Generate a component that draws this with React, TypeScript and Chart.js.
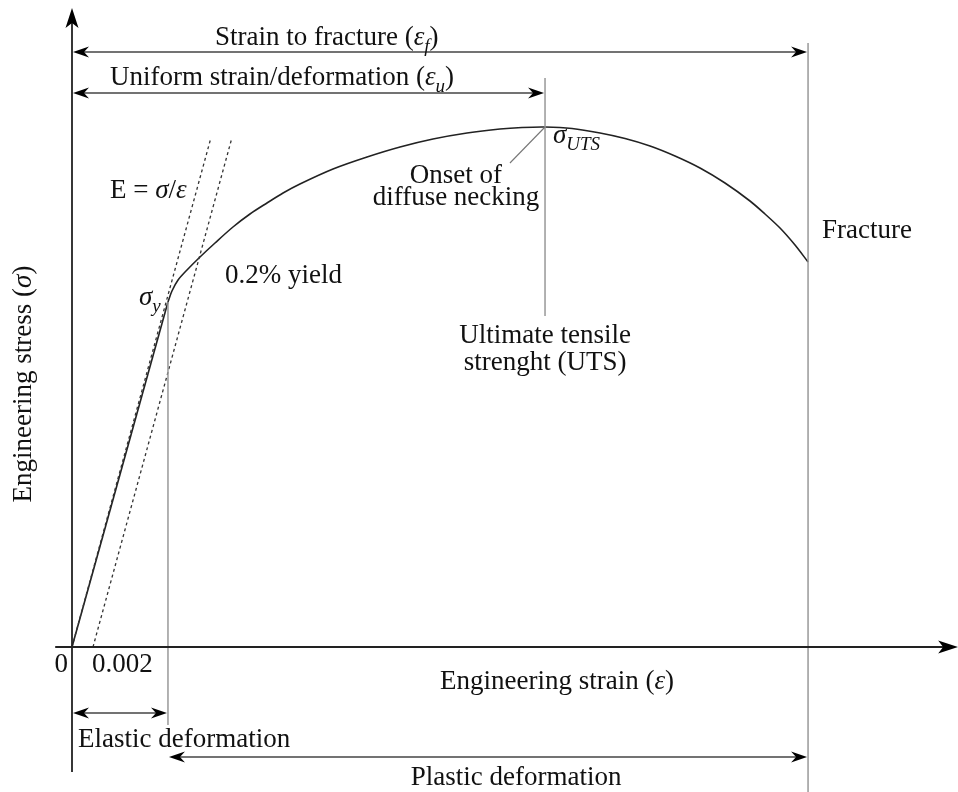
import { useEffect, useRef } from 'react';
import { Chart, registerables } from 'chart.js';

Chart.register(...registerables);

// ---- Data (strain in mm/mm, stress in arbitrary MPa) ----
const elasticStrain = [0, 0.00914];
const elasticStress = [0, 345];
const plasticStrain = [0.00914, 0.00952, 0.0101, 0.01095, 0.01219, 0.01362, 0.01533, 0.01695, 0.01857, 0.0201, 0.02171, 0.02486, 0.0281, 0.03124, 0.03438, 0.03762, 0.04076, 0.04286, 0.04505, 0.04762, 0.05029, 0.05267, 0.05505, 0.05743, 0.05981, 0.06219, 0.06457, 0.066, 0.06743, 0.06886, 0.0701];
const plasticStress = [345, 356, 367, 377, 390, 404, 420, 433, 444, 454, 463, 478, 490, 500, 508, 514, 518, 519.5, 520, 518.5, 514, 508.5, 501, 491, 479, 464, 446, 433, 419, 402, 385];
const modulusLineStrain = [0, 0.0132];
const modulusLineStress = [0, 508];
const offsetLineStrain = [0.002, 0.0152];
const offsetLineStress = [0, 508];
const guideStrain = [0.00914, 0.04505, 0.0701];
const guideTop = [345, 569, 604];
const guideBottom = [-78, 331, -145];
const dimFrom = [0, 0, 0, 0.00914];
const dimTo = [0.0701, 0.04505, 0.00914, 0.0701];
const dimLevel = [595, 554, -66, -110];
const tickValues = [0, 0.002];
const tickLabels = ['0', '0.002'];

const FONT = '"Liberation Serif", "Times New Roman", serif';
const SIZE = 27;
const SUB = 19;

type Part = { t: string; it?: boolean; sub?: boolean };
type Label = { parts: Part[]; x: number; y: number; align: 'left' | 'center' | 'right' };

const labels: Label[] = [
  { parts: [{ t: 'Strain to fracture (' }, { t: 'ε', it: true }, { t: 'f', it: true, sub: true }, { t: ')' }], x: 0.01362, y: 602, align: 'left' },
  { parts: [{ t: 'Uniform strain/deformation (' }, { t: 'ε', it: true }, { t: 'u', it: true, sub: true }, { t: ')' }], x: 0.00362, y: 562, align: 'left' },
  { parts: [{ t: 'E = ' }, { t: 'σ', it: true }, { t: '/' }, { t: 'ε', it: true }], x: 0.00362, y: 449, align: 'left' },
  { parts: [{ t: '0.2% yield' }], x: 0.01457, y: 364, align: 'left' },
  { parts: [{ t: 'σ', it: true }, { t: 'y', it: true, sub: true }], x: 0.00638, y: 342, align: 'left' },
  { parts: [{ t: 'σ', it: true }, { t: 'UTS', it: true, sub: true }], x: 0.04581, y: 504, align: 'left' },
  { parts: [{ t: 'Onset of' }], x: 0.03657, y: 464, align: 'center' },
  { parts: [{ t: 'diffuse necking' }], x: 0.03657, y: 442, align: 'center' },
  { parts: [{ t: 'Fracture' }], x: 0.07143, y: 409, align: 'left' },
  { parts: [{ t: 'Ultimate tensile' }], x: 0.04505, y: 304, align: 'center' },
  { parts: [{ t: 'strenght (UTS)' }], x: 0.04505, y: 277, align: 'center' },
  { parts: [{ t: 'Engineering strain (' }, { t: 'ε', it: true }, { t: ')' }], x: 0.04619, y: -42, align: 'center' },
  { parts: [{ t: 'Elastic deformation' }], x: 0.00057, y: -100, align: 'left' },
  { parts: [{ t: 'Plastic deformation' }], x: 0.04229, y: -138, align: 'center' },
];

const partFont = (p: Part) => `${p.it ? 'italic ' : ''}${p.sub ? SUB : SIZE}px ${FONT}`;

function drawRich(ctx: CanvasRenderingContext2D, parts: Part[], x: number, y: number, align: string) {
  let w = 0;
  for (const p of parts) {
    ctx.font = partFont(p);
    w += ctx.measureText(p.t).width;
  }
  let cx = align === 'center' ? x - w / 2 : align === 'right' ? x - w : x;
  ctx.textAlign = 'left';
  ctx.textBaseline = 'alphabetic';
  for (const p of parts) {
    ctx.font = partFont(p);
    ctx.fillText(p.t, cx, y + (p.sub ? 7 : 0));
    cx += ctx.measureText(p.t).width;
  }
}

function head(ctx: CanvasRenderingContext2D, tx: number, ty: number, dx: number, dy: number, len = 16, hw = 5.5) {
  const px = -dy, py = dx;
  ctx.beginPath();
  ctx.moveTo(tx, ty);
  ctx.lineTo(tx - dx * len + px * hw, ty - dy * len + py * hw);
  ctx.lineTo(tx - dx * (len - 5), ty - dy * (len - 5));
  ctx.lineTo(tx - dx * len - px * hw, ty - dy * len - py * hw);
  ctx.closePath();
  ctx.fill();
}

const annotPlugin = {
  id: 'annot',
  afterDatasetsDraw(chart: any) {
    const ctx: CanvasRenderingContext2D = chart.ctx;
    const X = (v: number) => chart.scales.x.getPixelForValue(v);
    const Y = (v: number) => chart.scales.y.getPixelForValue(v);
    ctx.save();

    // axes
    ctx.strokeStyle = '#222';
    ctx.fillStyle = '#000';
    ctx.lineWidth = 1.8;
    ctx.beginPath();
    ctx.moveTo(X(-0.0016), Y(0));
    ctx.lineTo(X(0.0835), Y(0));
    ctx.moveTo(X(0), Y(-125));
    ctx.lineTo(X(0), Y(630));
    ctx.stroke();
    head(ctx, X(0.0843) + 1, Y(0), 1, 0, 20, 6.5);
    head(ctx, X(0), Y(638) - 1, 0, -1, 20, 6.5);

    // dimension arrows
    ctx.strokeStyle = '#444';
    ctx.lineWidth = 1.3;
    for (let i = 0; i < dimFrom.length; i++) {
      const x1 = X(dimFrom[i]), x2 = X(dimTo[i]), y = Y(dimLevel[i]);
      ctx.beginPath();
      ctx.moveTo(x1 + 6, y);
      ctx.lineTo(x2 - 6, y);
      ctx.stroke();
      head(ctx, x1 + 1, y, -1, 0);
      head(ctx, x2 - 1, y, 1, 0);
    }

    // leader line to UTS
    ctx.strokeStyle = '#777';
    ctx.lineWidth = 1.1;
    ctx.beginPath();
    ctx.moveTo(X(0.04505), Y(520));
    ctx.lineTo(X(0.04171), Y(484));
    ctx.stroke();

    // text
    ctx.fillStyle = '#111';
    for (const l of labels) drawRich(ctx, l.parts, X(l.x), Y(l.y), l.align);

    // tick labels
    ctx.font = `${SIZE}px ${FONT}`;
    ctx.textBaseline = 'alphabetic';
    ctx.textAlign = 'right';
    ctx.fillText(tickLabels[0], X(tickValues[0]) - 4, Y(-25));
    ctx.textAlign = 'left';
    ctx.fillText(tickLabels[1], X(tickValues[1]) - 1, Y(-25));

    // y-axis title
    ctx.save();
    ctx.translate(31, Y(263));
    ctx.rotate(-Math.PI / 2);
    drawRich(ctx, [{ t: 'Engineering stress (' }, { t: 'σ', it: true }, { t: ')' }], 0, 0, 'center');
    ctx.restore();

    ctx.restore();
  },
};

const pts = (xs: number[], ys: number[]) => xs.map((x, i) => ({ x, y: ys[i] }));

export default function App() {
  const ref = useRef<HTMLCanvasElement>(null);
  useEffect(() => {
    if (!ref.current) return;
    const guides = guideStrain.map((g, i) => ({
      data: [{ x: g, y: guideTop[i] }, { x: g, y: guideBottom[i] }],
      borderColor: '#999',
      borderWidth: 1.5,
      pointRadius: 0,
      showLine: true,
    }));
    const chart = new Chart(ref.current, {
      type: 'scatter',
      data: {
        datasets: [
          ...guides,
          { data: pts(modulusLineStrain, modulusLineStress), borderColor: '#333', borderWidth: 1.3, borderDash: [3, 3], pointRadius: 0, showLine: true },
          { data: pts(offsetLineStrain, offsetLineStress), borderColor: '#333', borderWidth: 1.3, borderDash: [3, 3], pointRadius: 0, showLine: true },
          { data: pts(elasticStrain, elasticStress), borderColor: '#222', borderWidth: 1.6, pointRadius: 0, showLine: true },
          { data: pts(plasticStrain, plasticStress), borderColor: '#222', borderWidth: 1.6, pointRadius: 0, showLine: true, tension: 0.3, borderJoinStyle: 'round' },
        ] as any,
      },
      options: {
        animation: false,
        responsive: false,
        maintainAspectRatio: false,
        layout: { padding: 0 },
        plugins: { legend: { display: false }, tooltip: { enabled: false }, title: { display: false } },
        scales: {
          x: { type: 'linear', display: false, min: -72 / 10500, max: 886 / 10500 },
          y: { type: 'linear', display: false, min: -145, max: 647 },
        },
      },
      plugins: [annotPlugin],
    });
    return () => chart.destroy();
  }, []);
  return (
    <div style={{ position: 'absolute', left: 0, top: 0, width: 958, height: 792, background: '#fff' }}>
      <canvas ref={ref} width={958} height={792} style={{ display: 'block', width: 958, height: 792 }} />
    </div>
  );
}
